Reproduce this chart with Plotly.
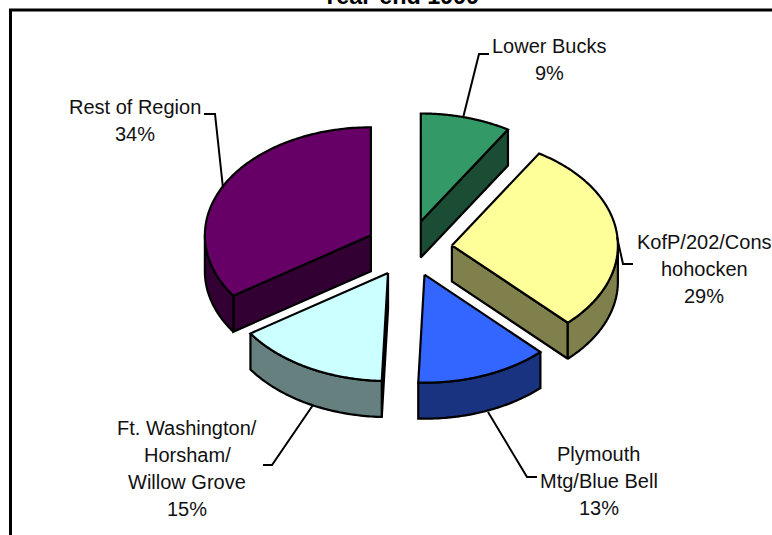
import numpy as np
import plotly.graph_objects as go

# Data (percentages; each rounds to its printed label)
names = ["Lower Bucks", "KofP/202/Conshohocken", "Plymouth Mtg/Blue Bell",
         "Ft. Washington/Horsham/Willow Grove", "Rest of Region"]
values = [8.8, 28.9, 12.9, 14.95, 34.45]
top_colors = ["#339966", "#FFFF99", "#3366FF", "#CCFFFF", "#660066"]
wall_colors = ["#1A4D33", "#80804D", "#1A3380", "#668080", "#330033"]
label_lines = [["Lower Bucks", "9%"],
               ["KofP/202/Cons", "hohocken", "29%"],
               ["Plymouth", "Mtg/Blue Bell", "13%"],
               ["Ft. Washington/", "Horsham/", "Willow Grove", "15%"],
               ["Rest of Region", "34%"]]
title_text = "Year-end 1999"

# Projection of the tilted, exploded pie (page pixels)
CX, CY, RX, RY, DEPTH, EXPLODE = 409.0, 248.5, 166.0, 108.0, 36.0, 0.26
LINE = 2.2
label_pos = [(549, 46), (704, 242), (598.5, 454), (187, 428), (135, 107)]
leaders = [[(463, 118), (479, 54), (489, 54)],
           [(617, 237), (623, 264), (633, 264)],
           [(488, 412), (527, 477), (537, 477)],
           [(313, 405), (272, 465), (263, 465)],
           [(223, 188), (215, 114), (204, 114)]]

fig = go.Figure()


def poly(xs, ys, fill):
    fig.add_trace(go.Scatter(x=list(xs) + [xs[0]], y=list(ys) + [ys[0]], mode="lines",
                             fill="toself", fillcolor=fill,
                             line=dict(color="black", width=LINE, simplify=False),
                             hoverinfo="skip", showlegend=False))


total = sum(values)
edges = np.concatenate([[0], np.cumsum(values)]) / total * 360.0


def rim(ax, ay, deg):
    t = np.radians(deg)
    return ax + RX * np.sin(t), ay - RY * np.cos(t)


for i, (start, end) in enumerate(zip(edges[:-1], edges[1:])):
    mid = np.radians((start + end) / 2)
    ax = CX + EXPLODE * RX * np.sin(mid)
    ay = CY - EXPLODE * RY * np.cos(mid)
    # cut faces
    for deg, sign in ((start, -1), (end, 1)):
        px, py = rim(ax, ay, deg)
        dx, dy = px - ax, py - ay
        # outward normal of the cut edge, positive y points down the page
        nx, ny = (-dy, dx) if sign > 0 else (dy, -dx)
        if ny > 0:
            poly([ax, px, px, ax], [ay, py, py + DEPTH, ay + DEPTH], wall_colors[i])
    # outer wall
    lo, hi = max(start, 90.0), min(end, 270.0)
    if hi > lo:
        th = np.linspace(lo, hi, 60)
        wx, wy = rim(ax, ay, th)
        poly(np.concatenate([wx, wx[::-1]]), np.concatenate([wy, wy[::-1] + DEPTH]),
             wall_colors[i])
    # top face
    th = np.linspace(start, end, 120)
    tx, ty = rim(ax, ay, th)
    poly(np.concatenate([[ax], tx]), np.concatenate([[ay], ty]), top_colors[i])

annotations = []
LEAD = 27
for lines, (lx, ly) in zip(label_lines, label_pos):
    for k, s in enumerate(lines):
        annotations.append(dict(x=lx, y=ly + k * LEAD, text=s, xref="x", yref="y",
                                showarrow=False, xanchor="center", yanchor="middle",
                                font=dict(family="Liberation Sans", size=20, color="#111111")))
annotations.append(dict(x=401 / 772, y=1, xref="paper", yref="paper", text="<b>%s</b>" % title_text,
                        showarrow=False, xanchor="center", yanchor="bottom", yshift=-11,
                        font=dict(family="Liberation Sans", size=23.4, color="black")))

shapes = [dict(type="path", xref="x", yref="y", line=dict(color="black", width=2),
               path="M %g %g L %g %g L %g %g" % (l[0] + l[1] + l[2]))
          for l in leaders]
# chart frame: left and top edges only are inside the page
shapes.append(dict(type="path", xref="x", yref="y", line=dict(color="black", width=3),
                   path="M 10.5 535 L 10.5 10 L 772 10"))

fig.update_layout(width=772, height=535, margin=dict(l=0, r=0, t=0, b=0),
                  paper_bgcolor="white", plot_bgcolor="white", showlegend=False,
                  xaxis=dict(range=[0, 772], visible=False, fixedrange=True),
                  yaxis=dict(range=[535, 0], visible=False, fixedrange=True),
                  annotations=annotations, shapes=shapes)

fig.write_html("out.html", config=dict(displayModeBar=False),
               post_script="document.body.style.margin='0';document.documentElement.style.overflow='hidden';")
